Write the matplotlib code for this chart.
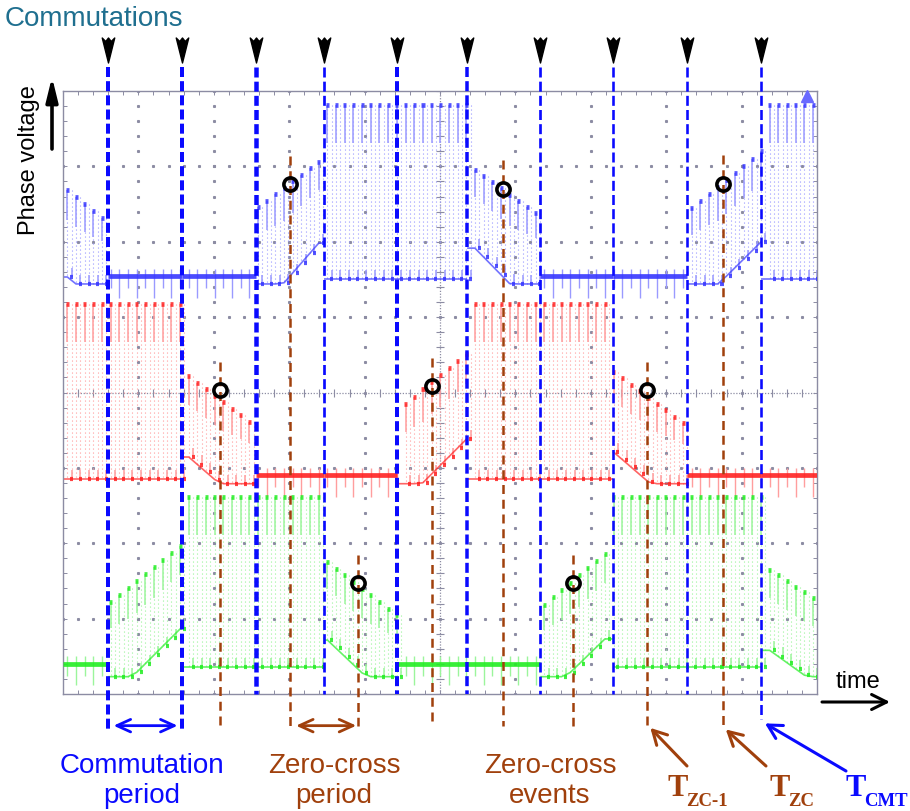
import numpy as np
import matplotlib
matplotlib.use("Agg")
import matplotlib.pyplot as plt
from matplotlib.collections import LineCollection
from matplotlib.path import Path

# ---------------- data (time and voltage in scope divisions) ----------------
commutations = [0.60, 1.58, 2.56, 3.46, 4.43, 5.36, 6.33, 7.29, 8.28, 9.26]
zero_cross_t = [2.08, 3.01, 3.91, 4.89, 5.84, 6.76, 7.75, 8.75]
zero_cross_v = [4.03, 6.76, 1.47, 4.08, 6.70, 1.47, 4.03, 6.77]

# phase A (blue, top trace)
a_states = ['fall', 'low', 'low', 'rise', 'high', 'high', 'fall', 'low', 'low', 'rise', 'high']
a_low, a_floor, a_high, a_pwm_low = 5.54, 5.44, 7.82, 5.50
a_up_start = [6.74, 6.44, 7.03, 6.40]
a_up_end = [6.24, 7.11, 6.33, 7.20]
a_lo_start = [5.61, 5.03, 6.02, 5.03]
a_lo_end = [4.80, 6.06, 5.03, 6.00]

# phase B (red, middle trace)
b_states = ['high', 'high', 'fall', 'low', 'low', 'rise', 'high', 'high', 'fall', 'low', 'low']
b_low, b_floor, b_high, b_pwm_low = 2.90, 2.79, 5.18, 2.85
b_up_start = [4.28, 3.76, 4.28]
b_up_end = [3.55, 4.52, 3.55]
b_lo_start = [3.22, 2.46, 3.22]
b_lo_end = [2.37, 3.39, 2.37]

# phase C (green, bottom trace)
c_states = ['low', 'rise', 'high', 'high', 'fall', 'low', 'low', 'rise', 'high', 'high', 'fall']
c_low, c_floor, c_high, c_pwm_low = 0.40, 0.23, 2.61, 0.36
c_up_start = [1.19, 1.79, 1.14, 1.72]
c_up_end = [1.99, 1.04, 1.95, 1.24]
c_lo_start = [-0.09, 0.76, -0.10, 0.66]
c_lo_end = [0.89, -0.16, 0.83, 0.13]

# ---------------- styles / layout ----------------
W, H = 910, 812
BLUE = '#0a0aff'
BROWN = '#a0400c'
TEAL = '#1f6f8f'
GRIDC = '#8c8ca3'
PWM = 0.115  # rendering pitch of PWM pulses

fig = plt.figure(figsize=(W / 100, H / 100), dpi=100)
ax = fig.add_axes([63 / W, (H - 695) / H, 754 / W, 603 / H])
ax.set_xlim(0, 10)
ax.set_ylim(0, 8)

# frame with inward ticks
for s in ax.spines.values():
    s.set_linestyle((0, (1, 1)))
    s.set_color(GRIDC)
    s.set_linewidth(1.0)
ax.set_xticks(np.arange(0, 10.01, 0.2))
ax.set_yticks(np.arange(0, 8.01, 0.2))
ax.tick_params(direction='in', length=3, width=0.7, color=GRIDC, top=True, right=True,
               labelbottom=False, labelleft=False)

# dotted grid
yy = np.arange(0, 8.01, 0.2)
xx = np.arange(0, 10.01, 0.2)
for gx in range(1, 10):
    if gx != 5:
        ax.plot(np.full_like(yy, gx), yy, ls='none', marker='s', ms=1.2, color=GRIDC, zorder=1)
for gy in range(1, 8):
    if gy != 4:
        ax.plot(xx, np.full_like(xx, gy), ls='none', marker='s', ms=1.2, color=GRIDC, zorder=1)
ax.axvline(5, ls=(0, (1, 1.3)), lw=0.9, color=GRIDC, zorder=1)
ax.axhline(4, ls=(0, (1, 1.3)), lw=0.9, color=GRIDC, zorder=1)
ax.plot(np.full_like(yy, 5), yy, ls='none', marker='_', ms=6, mew=0.8, color=GRIDC, zorder=1)
ax.plot(xx, np.full_like(xx, 4), ls='none', marker='|', ms=6, mew=0.8, color=GRIDC, zorder=1)


def draw_phase(states, low, floor, high, pwm_low, ups, upe, los, loe, main, light):
    edges = [0.0] + commutations + [10.0]
    tk_all = np.arange(0.5 * PWM, 10, PWM)
    fi = 0
    dotted, solid, tops, bots, flats, spikes, lowline = [], [], [], [], [], [], []
    for i, st in enumerate(states):
        a, b = edges[i], edges[i + 1]
        tk = tk_all[(tk_all >= a) & (tk_all < b)]
        if st == 'low':
            flats.append([(a, low), (b, low)])
            for j, t in enumerate(tk):
                spikes.append([(t, low + 0.10), (t, low - (0.28 if j % 2 else 0.16))])
            continue
        if st == 'high':
            u = np.full_like(tk, high)
            l = np.full_like(tk, pwm_low)
            frac = 0.22
        else:
            f = (tk - a) / (b - a)
            u = ups[fi] + (upe[fi] - ups[fi]) * f
            l = np.maximum(floor, los[fi] + (loe[fi] - los[fi]) * f)
            fi += 1
            frac = 0.35
        pts = []
        for t, uu, ll in zip(tk, u, l):
            dotted.append([(t, uu), (t, ll)])
            dotted.append([(t + PWM / 2, uu), (t + PWM / 2, ll)])
            solid.append([(t, uu), (t, uu - frac * (uu - ll))])
            solid.append([(t + PWM / 2, ll), (t + PWM / 2, ll + 0.12)])
            tops.append([(t - 0.018, uu), (t + 0.022, uu)])
            bots.append([(t + PWM / 2 - 0.02, ll), (t + PWM / 2 + 0.02, ll)])
            pts.append((t, ll))
        if pts:
            lowline.append([(a, pts[0][1])] + pts + [(b, pts[-1][1])])
    ax.add_collection(LineCollection(dotted, colors=light, linewidths=0.8,
                                     linestyles=[(0, (1, 2.6))], zorder=2))
    ax.add_collection(LineCollection(solid, colors=light, linewidths=1.1, zorder=2))
    ax.add_collection(LineCollection(spikes, colors=light, linewidths=1.0, zorder=2))
    ax.add_collection(LineCollection(lowline, colors=main, linewidths=1.2, alpha=0.7, zorder=2))
    ax.add_collection(LineCollection(flats, colors=main, linewidths=3.4, alpha=0.9, zorder=3))
    ax.add_collection(LineCollection(tops, colors=main, linewidths=3.4, alpha=0.85, zorder=3))
    ax.add_collection(LineCollection(bots, colors=main, linewidths=3.0, alpha=0.85, zorder=3))


draw_phase(a_states, a_low, a_floor, a_high, a_pwm_low, a_up_start, a_up_end, a_lo_start, a_lo_end,
           '#3636ff', '#9a9aff')
draw_phase(b_states, b_low, b_floor, b_high, b_pwm_low, b_up_start, b_up_end, b_lo_start, b_lo_end,
           '#ff2222', '#ff9e9e')
draw_phase(c_states, c_low, c_floor, c_high, c_pwm_low, c_up_start, c_up_end, c_lo_start, c_lo_end,
           '#22ee22', '#9cf59c')

# trigger marker
ax.plot([9.87], [7.93], marker='^', ms=9, color='#6a6aff', ls='none', zorder=3, clip_on=False)

# commutation lines and arrowheads
comm_bottom = [-0.46, -0.46, 0, 0, 0, 0, 0, 0, 0, -0.33]
comm_width = [4, 4, 4.5, 2.7, 4, 3.5, 2.7, 2.6, 2.6, 2.6]
for t, bt, wpx in zip(commutations, comm_bottom, comm_width):
    lw = wpx * 0.72
    ax.plot([t, t], [8.32, bt], color=BLUE, lw=lw, ls=(0, (7.2 / lw, 3.0 / lw)),
            zorder=4, clip_on=False, solid_capstyle='butt', dash_capstyle='butt')

arrow_marker = Path([(0, -1), (-0.5, 1), (-0.22, 0.72), (0, 1), (0.22, 0.72), (0.5, 1), (0, -1)],
                    [Path.MOVETO] + [Path.LINETO] * 5 + [Path.CLOSEPOLY])
ax.plot(commutations, [8.54] * len(commutations), ls='none', marker=arrow_marker, ms=18,
        color='k', clip_on=False, zorder=5)

# zero-cross lines and markers
for t, v in zip(zero_cross_t, zero_cross_v):
    ax.plot([t, t], [v + 0.38, -0.43], color=BROWN, lw=1.8, ls=(0, (3.6, 2.3)),
            zorder=4, clip_on=False)
ax.plot(zero_cross_t, zero_cross_v, ls='none', marker='o', ms=9.5, mfc='none', mec='k',
        mew=2.6, zorder=6)

# ---------------- annotations ----------------
def fp(x, y):
    return (x / W, 1 - y / H)


fig.text(*fp(5, 19), 'Commutations', color=TEAL, fontsize=20, family='Liberation Sans',
         ha='left', va='center')
fig.text(*fp(29, 160), 'Phase voltage', rotation=90, fontsize=17, family='Liberation Sans',
         ha='center', va='center')
ax.annotate('', xy=(52, H - 78), xycoords='figure pixels', xytext=(52, H - 150),
            textcoords='figure pixels',
            arrowprops=dict(arrowstyle='-|>,head_length=0.9,head_width=0.22', lw=2.6, color='k',
                            mutation_scale=16, shrinkA=0, shrinkB=0))
fig.text(*fp(858, 682), 'time', fontsize=17, family='Liberation Sans', ha='center', va='center')
ax.annotate('', xy=(890, H - 703), xycoords='figure pixels', xytext=(822, H - 703),
            textcoords='figure pixels',
            arrowprops=dict(arrowstyle='->,head_length=0.6,head_width=0.3', lw=2.2, color='k',
                            mutation_scale=18, shrinkA=0, shrinkB=0))

for txt, x, y, col in [('Commutation', 142, 773, BLUE), ('period', 142, 803, BLUE),
                       ('Zero-cross', 334, 773, BROWN), ('period', 334, 803, BROWN),
                       ('Zero-cross', 550, 773, BROWN), ('events', 550, 803, BROWN)]:
    fig.text(*fp(x, y), txt, color=col, fontsize=20, family='Liberation Sans',
             ha='center', va='baseline')

# double arrows (periods)
dbl = dict(arrowstyle='<->,head_length=0.55,head_width=0.25', lw=2.0, mutation_scale=18,
           shrinkA=0, shrinkB=0)
ax.annotate('', xy=(commutations[0] + 0.07, -0.42), xytext=(commutations[1] - 0.06, -0.42),
            arrowprops=dict(color=BLUE, **dbl), annotation_clip=False)
ax.annotate('', xy=(zero_cross_t[1] + 0.08, -0.42), xytext=(zero_cross_t[2] - 0.02, -0.42),
            arrowprops=dict(color=BROWN, **dbl), annotation_clip=False)

# T labels and pointer arrows
ptr = dict(arrowstyle='->,head_length=0.55,head_width=0.3', lw=2.2, mutation_scale=18,
           shrinkA=0, shrinkB=0)
for sub, x, col, tgt, sx, sy in [('ZC-1', 668, BROWN, (zero_cross_t[6] + 0.04, -0.45), 687, 767),
                                 ('ZC', 770, BROWN, (zero_cross_t[7] + 0.04, -0.47), 766, 767),
                                 ('CMT', 846, BLUE, (commutations[9] + 0.05, -0.39), 846, 772)]:
    tt = fig.text(*fp(x, 796), 'T', color=col, fontsize=22, fontweight='bold',
                  family='Liberation Serif', ha='left', va='baseline')
    ax.annotate(sub, xy=(1, 0), xycoords=tt, xytext=(-1.5, -2), textcoords='offset points',
                color=col, fontsize=13.5, fontweight='bold', family='Liberation Serif',
                ha='left', va='baseline', annotation_clip=False)
    ax.annotate('', xy=tgt, xycoords='data', xytext=(sx, H - sy), textcoords='figure pixels',
                arrowprops=dict(color=col, **ptr), annotation_clip=False)

fig.savefig('out.png', dpi=100)
